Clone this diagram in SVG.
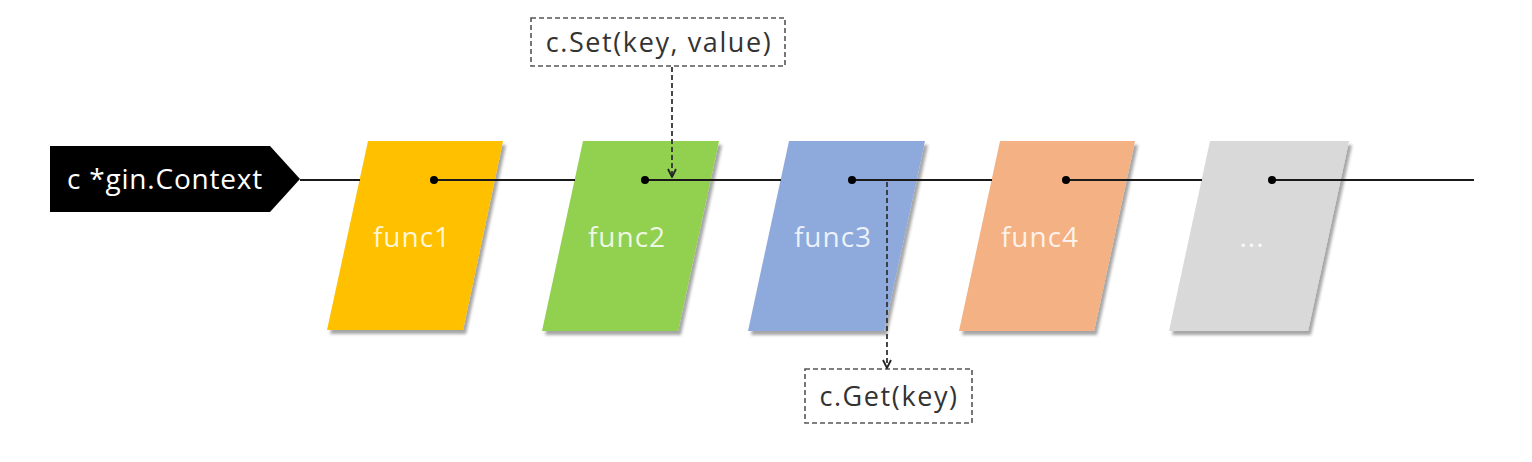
<svg xmlns="http://www.w3.org/2000/svg" width="1532" height="462" viewBox="0 0 1532 462">
<style>
.func{stroke:none;filter:url(#sh)}
.flabel{font-family:"Open Sans","Noto Sans",sans-serif;font-size:28px;letter-spacing:1px;fill:#ffffff;fill-opacity:0.85;text-anchor:middle}
.note{fill:#ffffff;stroke:#555555;stroke-width:1.6;stroke-dasharray:5 3}
.ntext{font-family:"Open Sans","Noto Sans",sans-serif;font-size:27px;letter-spacing:1.6px;fill:#333333;text-anchor:middle}
.wire{stroke:#1a1a1a;stroke-width:2;fill:none}
.dash{stroke:#333333;stroke-width:1.8;stroke-dasharray:5 3;fill:none}
.dot{fill:#000000}
</style>
<defs>
<filter id="sh" x="-10%" y="-10%" width="130%" height="130%">
<feDropShadow dx="3" dy="4" stdDeviation="1.5" flood-color="#000000" flood-opacity="0.35"/>
</filter>
<marker id="ah" viewBox="0 0 10 10" refX="9" refY="5" markerWidth="10" markerHeight="10" markerUnits="userSpaceOnUse" orient="auto">
<path d="M1,1 L9,5 L1,9" fill="none" stroke="#222222" stroke-width="1.8"/>
</marker>
</defs>
<rect width="1532" height="462" fill="#ffffff"/>

<g id="context">
<polygon points="50,146 270,146 300,179 270,212 50,212" fill="#000000"/>
<text x="165" y="189" font-family="Open Sans, Noto Sans, sans-serif" font-size="28" letter-spacing="0.8" fill="#ffffff" text-anchor="middle">c *gin.Context</text>
</g>

<g id="func1">
<polygon class="func" points="368,141 503,141 463,330 327,330" fill="#FFC000"/>
<text class="flabel" x="412" y="247">func1</text>
</g>
<g id="func2">
<polygon class="func" points="583,141 719,141 678,331 542,331" fill="#92D050"/>
<text class="flabel" x="627" y="247">func2</text>
</g>
<g id="func3">
<polygon class="func" points="789,141 925,141 884,331 748,331" fill="#8EA9DB"/>
<text class="flabel" x="833" y="247">func3</text>
</g>
<g id="func4">
<polygon class="func" points="1000,141 1135,141 1094,331 959,331" fill="#F4B183"/>
<text class="flabel" x="1040" y="247">func4</text>
</g>
<g id="func5">
<polygon class="func" points="1210,141 1349,141 1308,331 1169,331" fill="#D9D9D9"/>
<text class="flabel" x="1252" y="247">...</text>
</g>

<g id="set-note">
<rect class="note" x="531" y="18" width="254" height="48"/>
<text class="ntext" x="659" y="52">c.Set(key, value)</text>
</g>
<g id="get-note">
<rect class="note" x="805" y="369" width="167" height="54"/>
<text class="ntext" x="889" y="406">c.Get(key)</text>
</g>

<g id="connectors">
<line class="wire" x1="300" y1="180" x2="360" y2="180"/>
<line class="wire" x1="434" y1="180" x2="575" y2="180"/>
<line class="wire" x1="645" y1="180" x2="781" y2="180"/>
<line class="wire" x1="852" y1="180" x2="992" y2="180"/>
<line class="wire" x1="1066" y1="180" x2="1202" y2="180"/>
<line class="wire" x1="1272" y1="180" x2="1474" y2="180"/>
<circle class="dot" cx="434" cy="180" r="4"/>
<circle class="dot" cx="645" cy="180" r="4"/>
<circle class="dot" cx="852" cy="180" r="4"/>
<circle class="dot" cx="1066" cy="180" r="4"/>
<circle class="dot" cx="1272" cy="180" r="4"/>
<line class="dash" x1="672" y1="67" x2="672" y2="177" marker-end="url(#ah)"/>
<line class="dash" x1="887" y1="182" x2="887" y2="368" marker-end="url(#ah)"/>
</g>
</svg>
